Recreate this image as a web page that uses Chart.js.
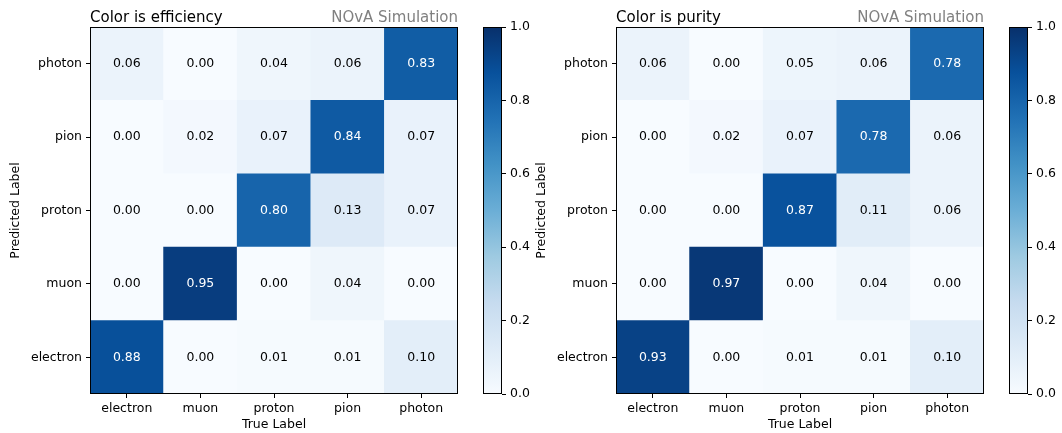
<!DOCTYPE html>
<html>
<head>
<meta charset="utf-8">
<script src="https://cdn.jsdelivr.net/npm/chart.js@4.4.1/dist/chart.umd.min.js"></script>
<style>
    body { margin: 0; background: #fff; }
    #wrap { position: relative; width: 1062px; height: 433px; overflow: hidden; }
    #wrap canvas { position: absolute; top: 0; }
</style>
</head>
<body>
<div id="wrap">
    <canvas id="effColorbar" width="70" height="433" style="left:470px"></canvas>
    <canvas id="purColorbar" width="66" height="433" style="left:996px"></canvas>
    <canvas id="effMatrix" width="470" height="433" style="left:0px"></canvas>
    <canvas id="purMatrix" width="470" height="433" style="left:526px"></canvas>
</div>
<script>
// labels for both axes, bottom row / left column first
const particles = ['electron', 'muon', 'proton', 'pion', 'photon'];

// rows = predicted label, columns = true label
const efficiency = [
    [0.88, 0.00, 0.01, 0.01, 0.10], // electron
    [0.00, 0.95, 0.00, 0.04, 0.00], // muon
    [0.00, 0.00, 0.80, 0.13, 0.07], // proton
    [0.00, 0.02, 0.07, 0.84, 0.07], // pion
    [0.06, 0.00, 0.04, 0.06, 0.83]  // photon
];
const purity = [
    [0.93, 0.00, 0.01, 0.01, 0.10],
    [0.00, 0.97, 0.00, 0.04, 0.00],
    [0.00, 0.00, 0.87, 0.11, 0.06],
    [0.00, 0.02, 0.07, 0.78, 0.06],
    [0.06, 0.00, 0.05, 0.06, 0.78]
];
const colorbarTicks = [0.0, 0.2, 0.4, 0.6, 0.8, 1.0];

// matplotlib "Blues"
const BLUES = [
    [247, 251, 255], [222, 235, 247], [198, 219, 239], [158, 202, 225], [107, 174, 214],
    [66, 146, 198], [33, 113, 181], [8, 81, 156], [8, 48, 107]
];

const FONT = { family: '"DejaVu Sans", sans-serif', size: 12.5 };

function blues(v) {
    const t = Math.min(Math.max(v, 0), 1) * (BLUES.length - 1);
    const i = Math.min(Math.floor(t), BLUES.length - 2);
    const f = t - i;
    const c = BLUES[i].map((a, k) => Math.round(a + (BLUES[i + 1][k] - a) * f));
    return `rgb(${c[0]},${c[1]},${c[2]})`;
}

// cell values, frame and the two titles above the matrix
const matrixDecor = {
    id: 'matrixDecor',
    afterDatasetsDraw(chart, args, opts) {
        const { ctx, chartArea: a } = chart;
        ctx.save();
        ctx.font = `12.5px ${FONT.family}`;
        ctx.textAlign = 'center';
        ctx.textBaseline = 'middle';
        chart.data.datasets.forEach((ds, r) => {
            chart.getDatasetMeta(r).data.forEach((bar, c) => {
                const v = ds.values[c];
                ctx.fillStyle = v > 0.5 ? '#fff' : '#000';
                ctx.fillText(v.toFixed(2), bar.x, (bar.y + bar.base) / 2);
            });
        });

        ctx.strokeStyle = '#000';
        ctx.lineWidth = 1;
        ctx.strokeRect(a.left + 0.5, a.top + 0.5, a.width - 1, a.height - 1);

        ctx.font = `15px ${FONT.family}`;
        ctx.textBaseline = 'alphabetic';
        ctx.textAlign = 'left';
        ctx.fillStyle = '#000';
        ctx.fillText(opts.title, a.left, a.top - 5);
        ctx.textAlign = 'right';
        ctx.fillStyle = '#808080';
        ctx.fillText(opts.note, a.right, a.top - 5);
        ctx.restore();
    }
};

const colorbarFrame = {
    id: 'colorbarFrame',
    afterDatasetsDraw(chart) {
        const { ctx, chartArea: a } = chart;
        ctx.save();
        ctx.strokeStyle = '#000';
        ctx.lineWidth = 1;
        ctx.strokeRect(a.left + 0.5, a.top + 0.5, a.width - 1, a.height - 1);
        ctx.restore();
    }
};

function tickGrid() {
    return { display: true, offset: false, drawOnChartArea: false, tickLength: 4, tickColor: '#000', tickWidth: 1 };
}

function makeMatrix(id, matrix, title) {
    // one floating bar per cell, a dataset per row
    const datasets = matrix.map((row, r) => ({
        data: row.map(() => [r - 0.5, r + 0.5]),
        values: row,
        backgroundColor: row.map(v => blues(v)),
        borderWidth: 0,
        barPercentage: 1,
        categoryPercentage: 1,
        grouped: false
    }));

    return new Chart(document.getElementById(id), {
        type: 'bar',
        data: { labels: particles, datasets: datasets },
        options: {
            responsive: false,
            animation: false,
            layout: { padding: { left: 0, right: 12, top: 27, bottom: 0 } },
            plugins: {
                legend: { display: false },
                tooltip: { enabled: false },
                matrixDecor: { title: title, note: 'NOvA Simulation' }
            },
            scales: {
                x: {
                    offset: true,
                    grid: tickGrid(),
                    border: { display: false },
                    ticks: { color: '#000', font: FONT, padding: 3, maxRotation: 0 },
                    title: { display: true, text: 'True Label', color: '#000', font: FONT, padding: { top: 0, bottom: 1 } },
                    afterFit: s => { s.height = 39; }
                },
                y: {
                    type: 'linear',
                    min: -0.5,
                    max: particles.length - 0.5,
                    afterBuildTicks: s => { s.ticks = particles.map((p, i) => ({ value: i })); },
                    grid: tickGrid(),
                    border: { display: false },
                    ticks: { color: '#000', font: FONT, padding: 4, callback: v => particles[v] },
                    title: { display: true, text: 'Predicted Label', color: '#000', font: FONT, padding: { top: 8.5, bottom: 0 } },
                    afterFit: s => { s.width = 90; }
                }
            }
        },
        plugins: [matrixDecor]
    });
}

function makeColorbar(id, axisWidth) {
    return new Chart(document.getElementById(id), {
        type: 'bar',
        data: {
            labels: [''],
            datasets: [{
                data: [[colorbarTicks[0], colorbarTicks[colorbarTicks.length - 1]]],
                backgroundColor: ctx => {
                    const a = ctx.chart.chartArea;
                    if (!a) return blues(0.5);
                    const g = ctx.chart.ctx.createLinearGradient(0, a.bottom, 0, a.top);
                    BLUES.forEach((c, i) => g.addColorStop(i / (BLUES.length - 1), `rgb(${c[0]},${c[1]},${c[2]})`));
                    return g;
                },
                borderWidth: 0,
                barPercentage: 1,
                categoryPercentage: 1
            }]
        },
        options: {
            responsive: false,
            animation: false,
            layout: { padding: { left: 13, right: 0, top: 27, bottom: 39 } },
            plugins: { legend: { display: false }, tooltip: { enabled: false } },
            scales: {
                x: { display: false },
                y: {
                    position: 'right',
                    min: 0,
                    max: 1,
                    afterBuildTicks: s => { s.ticks = colorbarTicks.map(v => ({ value: v })); },
                    grid: tickGrid(),
                    border: { display: false },
                    ticks: { color: '#000', font: FONT, padding: 4, callback: v => v.toFixed(1) },
                    afterFit: s => { s.width = axisWidth; }
                }
            }
        },
        plugins: [colorbarFrame]
    });
}

makeMatrix('effMatrix', efficiency, 'Color is efficiency');
makeMatrix('purMatrix', purity, 'Color is purity');
makeColorbar('effColorbar', 38);
makeColorbar('purColorbar', 34);
</script>
</body>
</html>
